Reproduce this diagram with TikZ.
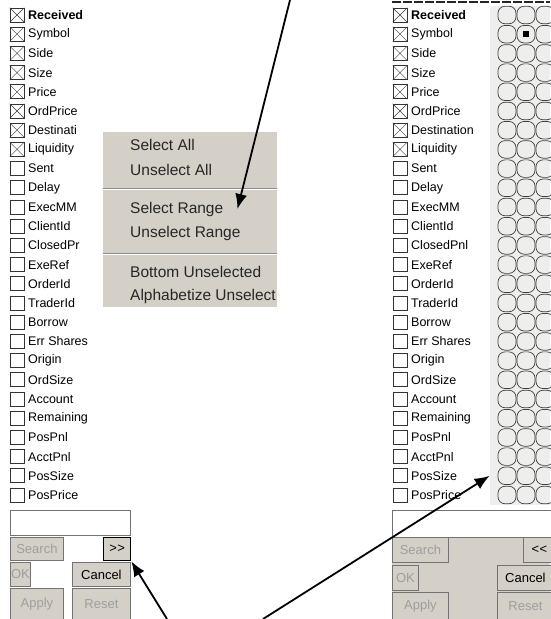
\documentclass[tikz,border=0pt]{standalone}
\usepackage{fontspec}
\setmainfont{Liberation Sans}
\usetikzlibrary{arrows.meta}
\definecolor{btngray}{HTML}{D4D0C8}
\definecolor{listgray}{HTML}{EEEEEC}

\begin{document}
\begin{tikzpicture}[x=1pt, y=-1pt,
  item/.style={anchor=west, inner sep=0pt, font=\fontsize{12.5}{14}\selectfont},
  tickbox/.style={draw=black!80, minimum size=14pt, inner sep=0pt, line width=0.7pt},
  dot/.style={draw=black!75, rounded corners=7pt, minimum width=18pt, minimum height=17.5pt, inner sep=0pt, line width=0.7pt},
  menuitem/.style={anchor=west, inner sep=0pt, font=\fontsize{15.5}{17}\selectfont, text=black!85},
  winbtn/.style={draw=black!55, fill=btngray, line width=0.8pt, anchor=north west, inner sep=0pt, font=\fontsize{13}{15}\selectfont},
  off/.style={text=black!38},
  pointer/.style={-{Latex[length=15pt, width=12pt]}, line width=1.8pt}]
  \useasboundingbox (0,0) rectangle (550,619);

  % right hand list: header bar and circle columns
  \draw[line width=2pt, black!85, dash pattern=on 9pt off 2pt] (392,2) -- (550,2);
  \fill[listgray] (490,6) rectangle (550,505);

  % the two field lists
  \foreach \lname/\rname [count=\i from 0] in {Received/Received, Symbol/Symbol, Side/Side,
      Size/Size, Price/Price, OrdPrice/OrdPrice, Destinati/Destination, Liquidity/Liquidity,
      Sent/Sent, Delay/Delay, ExecMM/ExecMM, ClientId/ClientId, ClosedPr/ClosedPnl,
      ExeRef/ExeRef, OrderId/OrderId, TraderId/TraderId, Borrow/Borrow,
      Err Shares/Err Shares, Origin/Origin, OrdSize/OrdSize, Account/Account,
      Remaining/Remaining, PosPnl/PosPnl, AcctPnl/AcctPnl, PosSize/PosSize, PosPrice/PosPrice}{
    \node[tickbox] (lb-\i) at (17, {15+19.2*\i}) {};
    \node[item] (lt-\i) at (28, {15+19.2*\i}) {\ifnum\i=0\bfseries\fi\lname};
    \node[tickbox] (rb-\i) at (400, {15+19.2*\i}) {};
    \node[item] (rt-\i) at (411, {15+19.2*\i}) {\ifnum\i=0\bfseries\fi\rname};
    \ifnum\i<8
      \draw[black!80] (lb-\i.north west) -- (lb-\i.south east) (lb-\i.north east) -- (lb-\i.south west);
      \draw[black!80] (rb-\i.north west) -- (rb-\i.south east) (rb-\i.north east) -- (rb-\i.south west);
    \fi
    \foreach \k in {1,2,3}
      \node[dot] (c-\i-\k) at ({488+19*\k}, {15+19.2*\i}) {};
  }
  \fill (c-1-2.center) ++(-3,-3) rectangle ++(6,6);

  % popup menu
  \fill[btngray] (103,132) rectangle (277,307);
  \node[menuitem] (sall)   at (130,145) {Select All};
  \node[menuitem] (uall)   at (130,170) {Unselect All};
  \node[menuitem] (srange) at (130,209) {Select Range};
  \node[menuitem] (urange) at (130,233) {Unselect Range};
  \node[menuitem] (bottom) at (130,272) {Bottom Unselected};
  \node[menuitem] (alpha)  at (130,296) {Alphabetize Unselect};
  \foreach \y in {188,253}{
    \draw[black!45] (103,\y) -- (277,\y);
    \draw[white] (103,\y+1.2) -- (277,\y+1.2);
  }

  % left panel controls
  \node[winbtn, fill=white, minimum width=120pt, minimum height=25pt] (lfield) at (10,510) {};
  \node[winbtn, off, minimum width=53pt, minimum height=23pt] (lsearch) at (10,537) {Search};
  \node[winbtn, draw=black, line width=1.3pt, minimum width=27pt, minimum height=23pt] (fwd) at (103,537) {>\kern0.5pt>};
  \node[winbtn, off, minimum width=20pt, minimum height=24pt] (lok) at (10,562) {OK};
  \node[winbtn, minimum width=58pt, minimum height=24pt] (lcancel) at (72,562) {Cancel};
  \node[winbtn, off, minimum width=53pt, minimum height=31pt] (lapply) at (10,588) {Apply};
  \node[winbtn, off, minimum width=58pt, minimum height=31pt] (lreset) at (72,588) {Reset};

  % right panel controls
  \fill[btngray] (392,537) rectangle (550,619);
  \node[winbtn, fill=white, minimum width=162pt, minimum height=27pt] (rfield) at (392,510) {};
  \node[winbtn, off, minimum width=56pt, minimum height=25pt] (rsearch) at (392,537) {Search};
  \node[winbtn, minimum width=32pt, minimum height=25pt] (back) at (523,537) {<\kern0.5pt<};
  \node[winbtn, off, minimum width=26pt, minimum height=25pt] (rok) at (392,565) {OK};
  \node[winbtn, minimum width=56pt, minimum height=25pt] (rcancel) at (497,565) {Cancel};
  \node[winbtn, off, minimum width=56pt, minimum height=27pt] (rapply) at (392,592) {Apply};
  \node[winbtn, off, minimum width=56pt, minimum height=27pt] (rreset) at (497,592) {Reset};

  % pointers
  \coordinate (top) at (290,0);
  \coordinate (foot-l) at (167,619);
  \coordinate (foot-r) at (263,619);
  \draw[pointer] (top) -- ([xshift=14pt]srange.east);
  \draw[pointer] (foot-l) -- (fwd.south east);
  \draw[pointer] (foot-r) -- ([xshift=-8pt]c-24-1.west);
\end{tikzpicture}
\end{document}
